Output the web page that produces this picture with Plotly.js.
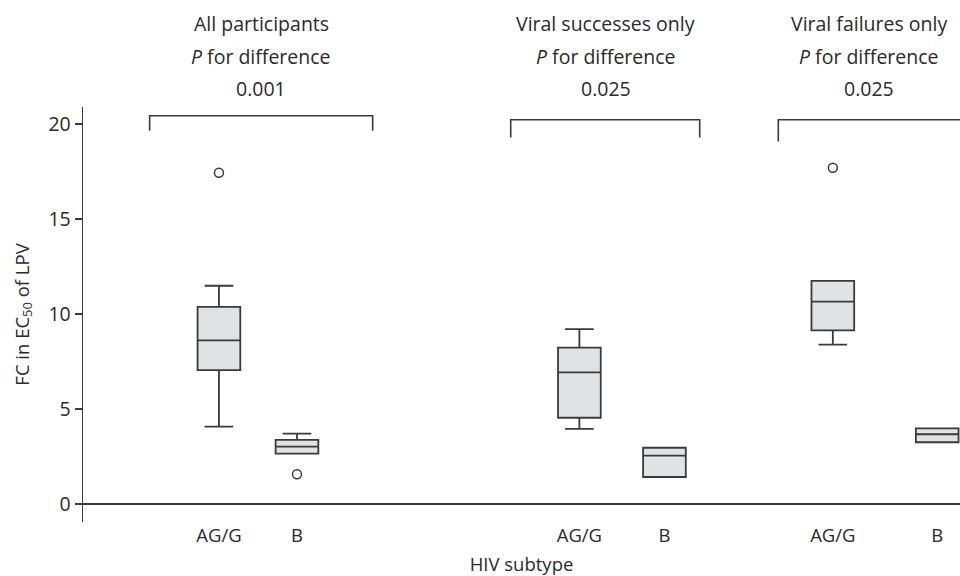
<!DOCTYPE html>
<html>
<head>
<meta charset="utf-8">
<script src="https://cdn.plot.ly/plotly-3.0.1.min.js"></script>
<style>html,body{margin:0;padding:0;background:#fff;}#chart{width:960px;height:576px;}</style>
</head>
<body>
<div id="chart"></div>
<script>
// Subtype labels and positions of each box on the x axis
const subtypes = ["AG/G", "B", "AG/G", "B", "AG/G", "B"];
const positions = [1.55, 2.44, 5.66, 6.63, 8.55, 9.74];

// Box statistics (FC in EC50 of LPV)
const q1Values     = [7.05, 2.65, 4.54, 1.42, 9.14, 3.25];
const medianValues = [8.61, 3.02, 6.93, 2.54, 10.65, 3.67];
const q3Values     = [10.38, 3.37, 8.23, 2.96, 11.75, 3.98];
const lowerFences  = [4.07, 2.65, 3.95, 1.42, 8.39, 3.25];
const upperFences  = [11.49, 3.70, 9.21, 2.96, 11.75, 3.98];

// Outliers
const outlierX = [1.55, 2.44, 8.55];
const outlierY = [17.44, 1.56, 17.70];

// Group headers
const groupNames = ["All participants", "Viral successes only", "Viral failures only"];
const pValues = ["0.001", "0.025", "0.025"];
const groupCenters = [2.03, 5.96, 8.96];
const bracketStarts = [0.76, 4.877, 7.928];
const bracketEnds = [3.303, 7.032, 10.3];
const bracketTops = [20.44, 20.23, 20.23];
const bracketBottoms = [19.65, 19.30, 19.09];

const FONT = "Open Sans, Noto Sans, sans-serif";
const INK = "#2a2a2a";
const LINE = "#3a3a3a";

const boxTrace = {
  type: "box",
  x: positions,
  q1: q1Values,
  median: medianValues,
  q3: q3Values,
  lowerfence: lowerFences,
  upperfence: upperFences,
  width: 0.487,
  whiskerwidth: 0.67,
  fillcolor: "#e1e2e4",
  line: {color: LINE, width: 1.8},
  boxpoints: false,
  hoverinfo: "skip",
  showlegend: false
};

const outlierTrace = {
  type: "scatter",
  mode: "markers",
  x: outlierX,
  y: outlierY,
  marker: {symbol: "circle-open", size: 9, color: LINE, line: {width: 1.5, color: LINE}},
  hoverinfo: "skip",
  showlegend: false
};

const annotations = [];
const shapes = [];
const lineY = [1.2024, 1.1205, 1.0434];
for (let i = 0; i < groupNames.length; i++) {
  const texts = [groupNames[i], "<i>P</i> for difference", pValues[i]];
  texts.forEach((t, j) => {
    annotations.push({
      x: groupCenters[i], xref: "x",
      y: lineY[j], yref: "paper",
      text: t, showarrow: false,
      xanchor: "center", yanchor: "middle",
      font: {family: FONT, size: 19.5, color: INK}
    });
  });
  shapes.push({
    type: "path", xref: "x", yref: "y",
    path: `M ${bracketStarts[i]} ${bracketBottoms[i]} L ${bracketStarts[i]} ${bracketTops[i]} L ${bracketEnds[i]} ${bracketTops[i]} L ${bracketEnds[i]} ${bracketBottoms[i]}`,
    line: {color: LINE, width: 1.6}
  });
}

const layout = {
  width: 960, height: 576,
  margin: {l: 83, r: 0, t: 107, b: 54},
  paper_bgcolor: "#fff", plot_bgcolor: "#fff",
  font: {family: FONT, size: 18, color: INK},
  showlegend: false,
  xaxis: {
    range: [0, 10],
    showgrid: false, zeroline: false, showline: false,
    ticks: "",
    tickmode: "array", tickvals: positions, ticktext: subtypes,
    tickfont: {family: FONT, size: 18.5, color: INK},
    title: {text: "HIV subtype", font: {family: FONT, size: 18.5, color: INK}, standoff: 14},
    fixedrange: true
  },
  yaxis: {
    range: [-0.95, 20.9],
    showgrid: false,
    zeroline: true, zerolinecolor: LINE, zerolinewidth: 1.4,
    showline: true, linecolor: LINE, linewidth: 1.4,
    ticks: "outside", ticklen: 7, tickwidth: 1.4, tickcolor: LINE,
    tickmode: "array", tickvals: [0, 5, 10, 15, 20],
    tickfont: {family: FONT, size: 19.5, color: INK},
    title: {text: "FC in EC<sub>50</sub> of LPV", font: {family: FONT, size: 18.5, color: INK}, standoff: 14},
    fixedrange: true
  },
  annotations: annotations,
  shapes: shapes
};

Plotly.newPlot("chart", [boxTrace, outlierTrace], layout, {displayModeBar: false, staticPlot: true});
</script>
</body>
</html>
